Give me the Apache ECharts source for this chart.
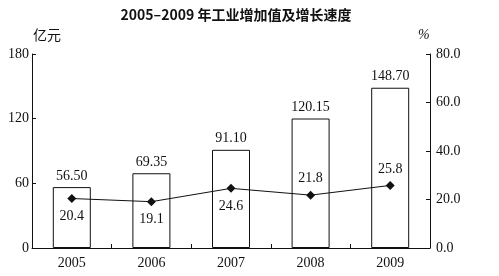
<!DOCTYPE html>
<html><head><meta charset="utf-8">
<script src="https://cdn.jsdelivr.net/npm/echarts@6/dist/echarts.min.js"></script>
<style>html,body{margin:0;padding:0;background:#fff}#c{width:499px;height:276px}</style>
</head><body><div id="c"></div>
<script>
var categories = ['2005','2006','2007','2008','2009'];
var valueAdded = [56.50, 69.35, 91.10, 120.15, 148.70];
var growthRate = [20.4, 19.1, 24.6, 21.8, 25.8];
var rateLabelPos = ['bottom','bottom','bottom','top','top'];

var serif = '"Liberation Serif","DejaVu Serif",serif';
var chart = echarts.init(document.getElementById('c'), null, {renderer:'canvas'});
chart.setOption({
  backgroundColor:'#fff',
  animation:false,
  title:{text:'2005–2009 年工业增加值及增长速度', left:231, top:3, textAlign:'center',
    textStyle:{fontFamily:'"Noto Sans CJK SC",sans-serif', fontWeight:'bold', fontSize:14, color:'#111'}},
  graphic:[
    {type:'text', left:33, top:28, style:{text:'亿元', font:'14px "Noto Sans CJK SC",sans-serif', fill:'#111'}},
    {type:'text', left:418, top:28, style:{text:'%', font:'italic 14px '+serif, fill:'#111'}}
  ],
  grid:{left:32, right:69, top:54, bottom:28},
  xAxis:{type:'category', data:categories, boundaryGap:true,
    axisLine:{lineStyle:{color:'#111', width:1}},
    axisTick:{show:true, inside:true, length:4, lineStyle:{color:'#111'}},
    axisLabel:{fontFamily:serif, fontSize:14, color:'#111', margin:8}},
  yAxis:[
    {type:'value', min:0, max:180, interval:60,
      axisLine:{show:true, lineStyle:{color:'#111'}},
      axisTick:{show:true, inside:true, length:4, lineStyle:{color:'#111'}},
      splitLine:{show:false},
      axisLabel:{fontFamily:serif, fontSize:14, color:'#111', margin:3}},
    {type:'value', min:0, max:80, interval:20, position:'right',
      axisLine:{show:true, lineStyle:{color:'#111'}},
      axisTick:{show:true, inside:true, length:4, lineStyle:{color:'#111'}},
      splitLine:{show:false},
      axisLabel:{fontFamily:serif, fontSize:14, color:'#111', margin:6, formatter:function(v){return v.toFixed(1);}}}
  ],
  series:[
    {type:'bar', data:valueAdded, barWidth:38, yAxisIndex:0,
      itemStyle:{color:'#fff', borderColor:'#111', borderWidth:1},
      label:{show:true, position:'top', distance:4, fontFamily:serif, fontSize:14, color:'#111',
        formatter:function(p){return p.value.toFixed(2);}}},
    {type:'line', yAxisIndex:1, symbol:'diamond', symbolSize:9,
      data:growthRate.map(function(v,i){return {value:v, label:{position:rateLabelPos[i], distance:rateLabelPos[i]==='top'?5:6}};}),
      lineStyle:{color:'#111', width:1}, itemStyle:{color:'#111'},
      label:{show:true, fontFamily:serif, fontSize:14, color:'#111',
        formatter:function(p){return p.value.toFixed(1);}}}
  ]
});
</script></body></html>
